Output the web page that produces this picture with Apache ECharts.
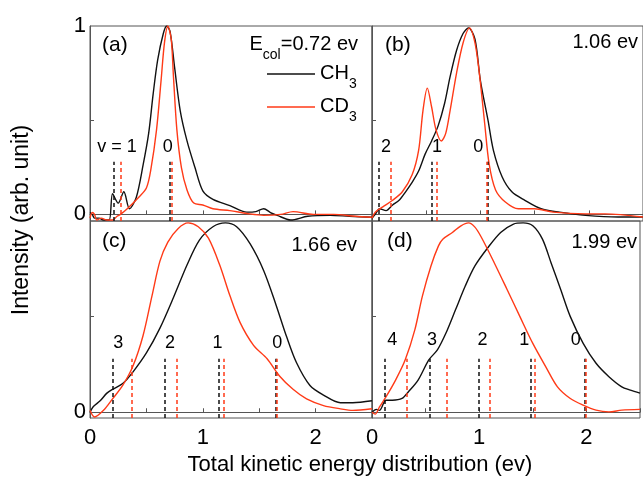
<!DOCTYPE html>
<html>
<head>
<meta charset="utf-8">
<script src="https://cdn.jsdelivr.net/npm/echarts@6/dist/echarts.min.js"></script>
<style>
  html, body { margin: 0; padding: 0; background: #fff; }
  #chart { width: 643px; height: 477px; }
</style>
</head>
<body>
<div id="chart"></div>
<script>
// total kinetic energy (ev) vs intensity
const chA = [[0,0.01],[0.02,0],[0.04,-0.02],[0.08,-0.02],[0.12,-0.03],[0.17,-0.03],[0.2,0.11],[0.25,0.06],[0.3,0.12],[0.35,0.03],[0.41,0.09],[0.47,0.26],[0.52,0.43],[0.56,0.64],[0.6,0.82],[0.65,0.96],[0.68,1.0],[0.71,0.97],[0.75,0.78],[0.8,0.55],[0.86,0.39],[0.93,0.25],[1.0,0.125],[1.09,0.08],[1.24,0.047],[1.39,0.012],[1.47,0.015],[1.54,0.03],[1.6,0.01],[1.66,-0.005],[1.78,-0.03],[1.93,-0.01],[2.13,-0.005],[2.3,-0.01],[2.5,-0.015]];
const cdA = [[0,-0.02],[0.02,0.01],[0.04,0],[0.06,-0.03],[0.1,-0.02],[0.15,-0.03],[0.2,-0.03],[0.24,-0.01],[0.27,0],[0.33,0.03],[0.43,0.09],[0.5,0.14],[0.54,0.24],[0.59,0.45],[0.63,0.71],[0.66,0.91],[0.69,1.0],[0.72,0.93],[0.74,0.73],[0.77,0.45],[0.81,0.25],[0.86,0.13],[0.92,0.06],[1.0,0.05],[1.09,0.03],[1.24,0.02],[1.39,0.005],[1.54,-0.005],[1.69,0],[1.8,0.015],[1.98,0],[2.16,0],[2.35,-0.01],[2.5,-0.015]];
const chB = [[0,-0.02],[0.03,0],[0.07,0.03],[0.13,0.02],[0.19,0.05],[0.25,0.075],[0.31,0.12],[0.37,0.17],[0.43,0.23],[0.49,0.32],[0.55,0.39],[0.61,0.47],[0.67,0.59],[0.72,0.73],[0.78,0.87],[0.84,0.96],[0.89,0.99],[0.95,0.93],[1.0,0.71],[1.07,0.5],[1.12,0.34],[1.2,0.2],[1.29,0.12],[1.41,0.075],[1.56,0.03],[1.73,0.012],[1.97,-0.005],[2.27,-0.014],[2.5,-0.014]];
const cdB = [[0,-0.02],[0.03,0.012],[0.1,0.04],[0.19,0.075],[0.28,0.12],[0.37,0.21],[0.43,0.34],[0.47,0.55],[0.51,0.67],[0.55,0.57],[0.59,0.45],[0.64,0.39],[0.68,0.43],[0.72,0.55],[0.78,0.75],[0.84,0.91],[0.9,0.99],[0.95,0.91],[0.99,0.75],[1.04,0.48],[1.08,0.27],[1.14,0.13],[1.23,0.066],[1.35,0.03],[1.5,0.03],[1.67,0.012],[1.97,0.003],[2.15,0.003],[2.5,-0.014]];
const chC = [[0,0],[0.03,0.03],[0.09,0.06],[0.15,0.1],[0.2,0.12],[0.29,0.15],[0.38,0.21],[0.5,0.31],[0.62,0.44],[0.74,0.6],[0.86,0.77],[0.97,0.9],[1.09,0.97],[1.2,0.99],[1.3,0.97],[1.42,0.88],[1.54,0.74],[1.65,0.56],[1.74,0.4],[1.83,0.26],[1.95,0.14],[2.07,0.09],[2.22,0.05],[2.33,0.05],[2.5,0.06]];
const cdC = [[0,0.01],[0.04,-0.025],[0.12,0.01],[0.2,0.07],[0.29,0.14],[0.38,0.24],[0.47,0.4],[0.55,0.61],[0.62,0.79],[0.69,0.89],[0.78,0.96],[0.87,0.99],[0.96,0.97],[1.05,0.91],[1.15,0.77],[1.24,0.61],[1.33,0.47],[1.45,0.35],[1.57,0.28],[1.68,0.19],[1.8,0.12],[1.92,0.07],[2.07,0.035],[2.22,0.018],[2.33,0.01],[2.5,0.018]];
const chD = [[0,0],[0.04,0.015],[0.07,0.01],[0.13,0.063],[0.19,0.063],[0.28,0.072],[0.34,0.107],[0.43,0.168],[0.53,0.274],[0.61,0.326],[0.69,0.414],[0.78,0.537],[0.87,0.66],[0.96,0.765],[1.08,0.86],[1.2,0.94],[1.32,0.984],[1.41,0.99],[1.5,0.975],[1.59,0.905],[1.67,0.782],[1.76,0.642],[1.85,0.5],[1.97,0.36],[2.09,0.256],[2.21,0.186],[2.33,0.133],[2.41,0.116],[2.5,0.1]];
const cdD = [[0,0],[0.03,-0.01],[0.07,0.028],[0.13,0.08],[0.22,0.168],[0.31,0.274],[0.4,0.432],[0.47,0.607],[0.55,0.765],[0.62,0.87],[0.66,0.905],[0.75,0.94],[0.83,0.975],[0.9,0.99],[0.96,0.968],[1.02,0.915],[1.14,0.782],[1.26,0.642],[1.38,0.5],[1.5,0.36],[1.62,0.239],[1.73,0.133],[1.85,0.072],[1.97,0.037],[2.09,0.011],[2.21,0.002],[2.33,0.011],[2.5,0.015]];

// vibrational level positions (ev), dashed markers
const levelsCH = [[0.21,0.71],[0.06,0.55,1.07],[0.2,0.66,1.14,1.65],[0.115,0.54,1.0,1.48,1.98]];
const levelsCD = [[0.27,0.725],[0.17,0.6,1.06],[0.37,0.77,1.19,1.66],[0.32,0.7,1.1,1.52,1.99]];
const levelText = [['v = 1','0'],['2','1','0'],['3','2','1','0'],['4','3','2','1','0']];
const levelTextX = [[0.24,0.69],[0.13,0.6,0.98],[0.25,0.71,1.13,1.66],[0.19,0.56,1.03,1.42,1.9]];
const levelTextY = [0.36,0.36,0.36,0.38];

const panelTags = ['(a)','(b)','(c)','(d)'];
const energies = ['0.72','1.06','1.66','1.99'];

const FONT = 'Liberation Sans, Arial, sans-serif';
const BLACK = '#111111';
const RED = '#ff3a17';
const AXIS = '#555555';

const grids = [
  {left: 90, top: 26, width: 282, height: 195},
  {left: 372, top: 26, width: 281, height: 195},
  {left: 90, top: 221, width: 282, height: 197},
  {left: 372, top: 221, width: 281, height: 197}
];

const xAxis = grids.map((g, i) => ({
  type: 'value', gridIndex: i, min: 0, max: 2.5, interval: 0.5,
  axisLine: {show: true, lineStyle: {color: AXIS}},
  axisTick: {show: true, inside: true, length: 4, lineStyle: {color: AXIS}},
  splitLine: {show: false},
  axisLabel: {
    show: i >= 2, margin: 9, color: '#000', fontFamily: FONT, fontSize: 22,
    formatter: v => (Math.abs(v - Math.round(v)) < 1e-6 ? String(Math.round(v)) : '')
  }
}));

const yAxis = grids.map((g, i) => ({
  type: 'value', gridIndex: i,
  min: i < 2 ? -0.035 : -0.03, max: 1.0,
  axisLine: {show: true, lineStyle: {color: AXIS}},
  axisTick: {show: true, inside: true, length: 4, customValues: [0.5], lineStyle: {color: AXIS}},
  splitLine: {show: false},
  axisLabel: {
    show: i === 0 || i === 2, margin: 4, color: '#000', fontFamily: FONT, fontSize: 22,
    customValues: i === 0 ? [0, 1] : [0]
  }
}));

const curves = [[chA, cdA], [chB, cdB], [chC, cdC], [chD, cdD]];

function levelLines(xs, i) {
  const bottom = yAxis[i].min;
  return xs.map(x => [{coord: [x, bottom]}, {coord: [x, 0.28]}]);
}

const series = [];
curves.forEach((pair, i) => {
  ['CH3', 'CD3'].forEach((name, k) => {
    const color = k === 0 ? BLACK : RED;
    series.push({
      name: name, type: 'line', xAxisIndex: i, yAxisIndex: i,
      data: pair[k], showSymbol: false, smooth: 0.3,
      lineStyle: {color: color, width: 1.4},
      itemStyle: {color: color},
      clip: true,
      markLine: {
        silent: true, symbol: 'none', animation: false,
        label: {show: false},
        lineStyle: {color: color, type: [4, 3], width: 1.5},
        data: levelLines(k === 0 ? levelsCH[i] : levelsCD[i], i)
      }
    });
  });
  series.push({
    type: 'scatter', xAxisIndex: i, yAxisIndex: i, silent: true,
    symbolSize: 0,
    itemStyle: {opacity: 1, color: '#000'},
    data: levelText[i].map((t, j) => ({name: t, value: [levelTextX[i][j], levelTextY[i]]})),
    label: {
      show: true, position: 'inside', formatter: p => p.name,
      color: '#000', opacity: 1, fontFamily: FONT, fontSize: 18,
      textBorderWidth: 0
    }
  });
});

const subRich = {
  m: {fontFamily: FONT, fontSize: 20, lineHeight: 22, verticalAlign: 'top', color: '#000'},
  s: {fontFamily: FONT, fontSize: 14, lineHeight: 14, padding: [14, 0, 0, 0], verticalAlign: 'top', color: '#000'}
};

const graphic = [
  {type: 'text', left: 102, top: 35, style: {text: panelTags[0], font: '21px ' + FONT, fill: '#000'}},
  {type: 'text', left: 385, top: 35, style: {text: panelTags[1], font: '21px ' + FONT, fill: '#000'}},
  {type: 'text', left: 102, top: 231, style: {text: panelTags[2], font: '21px ' + FONT, fill: '#000'}},
  {type: 'text', left: 387, top: 231, style: {text: panelTags[3], font: '21px ' + FONT, fill: '#000'}},
  {type: 'text', right: 285, top: 34, style: {text: '{m|E}{s|col}{m|=' + energies[0] + ' ev}', rich: subRich}},
  {type: 'text', right: 5, top: 32, style: {text: energies[1] + ' ev', font: '20px ' + FONT, fill: '#000'}},
  {type: 'text', right: 286, top: 235, style: {text: energies[2] + ' ev', font: '20px ' + FONT, fill: '#000'}},
  {type: 'text', right: 6, top: 232, style: {text: energies[3] + ' ev', font: '20px ' + FONT, fill: '#000'}},
  {type: 'text', x: 22, y: 220, rotation: Math.PI / 2,
   style: {text: 'Intensity (arb. unit)', font: '23px ' + FONT, fill: '#000', textAlign: 'center', textVerticalAlign: 'middle'}},
  {type: 'text', x: 360, y: 465,
   style: {text: 'Total kinetic energy distribution (ev)', font: '22px ' + FONT, fill: '#000', textAlign: 'center', textVerticalAlign: 'middle'}}
];

const chart = echarts.init(document.getElementById('chart'), null, {renderer: 'canvas'});
chart.setOption({
  animation: false,
  backgroundColor: '#fff',
  grid: grids.map(g => Object.assign({show: true, borderColor: AXIS, borderWidth: 1, backgroundColor: 'transparent'}, g)),
  xAxis: xAxis,
  yAxis: yAxis,
  legend: {
    data: ['CH3', 'CD3'], orient: 'vertical', left: 262, top: 58,
    icon: 'rect', itemWidth: 48, itemHeight: 1.5, itemGap: 5,
    formatter: n => '{m|' + n.slice(0, 2) + '}{s|3}',
    textStyle: {rich: subRich},
    selectedMode: false
  },
  graphic: graphic,
  series: series
});
</script>
</body>
</html>
